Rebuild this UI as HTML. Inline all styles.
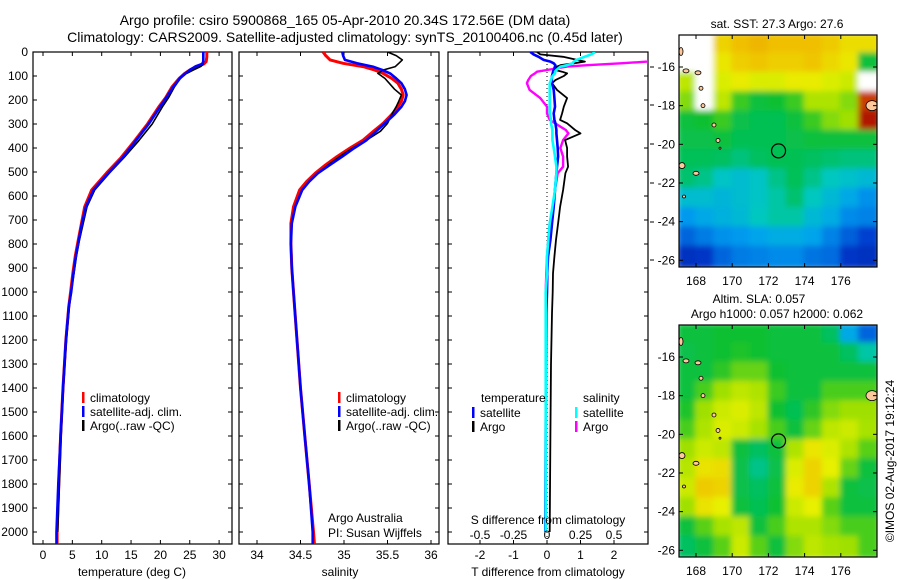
<!DOCTYPE html>
<html><head><meta charset="utf-8"><style>
html,body{margin:0;padding:0;background:#fff;}
svg{display:block;font-family:"Liberation Sans",sans-serif;}
</style></head><body>
<svg id="fig" width="900" height="580" viewBox="0 0 900 580">
<defs>
<clipPath id="cT"><rect x="33" y="52" width="199" height="492"/></clipPath>
<clipPath id="cS"><rect x="239" y="52" width="200" height="492"/></clipPath>
<clipPath id="cD"><rect x="448" y="52" width="200" height="492"/></clipPath>
<clipPath id="cM1"><rect x="679" y="35" width="198" height="232"/></clipPath>
<clipPath id="cM2"><rect x="679" y="325" width="198" height="232"/></clipPath>
<filter id="blur" x="-5%" y="-5%" width="110%" height="110%"><feGaussianBlur stdDeviation="3"/></filter>
</defs>
<text x="345" y="25" font-size="14" text-anchor="middle">Argo profile: csiro 5900868_165 05-Apr-2010 20.34S 172.56E (DM data)</text>
<text x="345" y="42" font-size="14" text-anchor="middle">Climatology: CARS2009. Satellite-adjusted climatology: synTS_20100406.nc (0.45d later)</text>
<g id="g"></g>
</svg>
<script>
// ---- profile data ----
const tDepth=[0,20,40,50,60,75,90,110,145,190,230,300,370,440,505,575,645,720,785,850,920,1000,1060,1200,1400,1600,1800,2000,2050];
const tClim=[27.9,27.9,27.8,27.4,26.2,25.0,24.1,23.2,22.0,20.9,19.7,17.8,15.6,13.3,10.8,8.3,7.1,6.5,6.0,5.5,5.1,4.7,4.4,3.9,3.4,3.0,2.7,2.4,2.4];
const tSat=[27.3,27.3,27.3,27.1,26.0,25.0,24.2,23.3,22.2,21.0,19.9,18.0,15.8,13.6,11.1,8.6,7.3,6.6,6.1,5.6,5.2,4.8,4.4,3.9,3.4,3.0,2.6,2.3,2.3];
const tArgo=[27.3,27.3,27.3,27.3,26.9,25.6,24.4,23.4,22.4,21.4,20.3,18.6,16.3,13.8,11.3,8.8,7.5,6.8,6.2,5.7,5.3,4.8,4.5,4.0,3.5,3.1,2.8,2.5,2.5];
const sDepth=[0,15,33,47,61,75,89,110,130,155,179,205,228,260,297,330,367,400,436,470,505,540,575,645,714,800,900,1000,1200,1400,1600,1800,2000,2050];
const sClim=[34.76,34.79,34.84,34.99,35.22,35.35,35.45,35.55,35.62,35.66,35.68,35.66,35.62,35.55,35.45,35.34,35.22,35.07,34.92,34.79,34.67,34.57,34.49,34.42,34.39,34.39,34.40,34.42,34.46,34.50,34.55,34.60,34.65,34.66];
const sSat=[34.98,34.99,35.01,35.15,35.33,35.44,35.53,35.60,35.66,35.70,35.72,35.70,35.66,35.58,35.47,35.37,35.26,35.12,34.98,34.84,34.70,34.60,34.52,34.44,34.40,34.39,34.40,34.42,34.46,34.50,34.55,34.60,34.64,34.64];
const sArgo=[35.50,35.60,35.67,35.63,35.59,35.45,35.39,35.47,35.52,35.58,35.66,35.63,35.60,35.55,35.50,35.42,35.26,35.10,34.95,34.82,34.70,34.60,34.52,34.44,34.40,34.39,34.40,34.42,34.46,34.50,34.55,34.60,34.64,34.64];
const dDepth=[0,10,20,33,40,47,55,61,75,82,89,100,117,130,158,192,228,256,283,297,325,339,367,400,436,478,505,575,645,714,783,853,922,1000,1089,1300,1600,2000];
const dtSat=[-0.5,-0.4,-0.25,-0.1,0.1,0.2,0.25,0.24,0.2,0.18,0.17,0.15,0.14,0.15,0.2,0.22,0.24,0.2,0.22,0.25,0.28,0.28,0.3,0.32,0.33,0.3,0.28,0.24,0.2,0.15,0.1,0.03,0.01,0,-0.02,-0.03,-0.04,-0.05];
const dtArgo=[-0.3,-0.2,0.48,0.9,1.13,0.8,0.4,0.3,0.25,0.45,0.6,0.5,0.25,0.15,0.3,0.6,0.5,0.45,0.39,0.6,0.84,1.0,0.54,0.6,0.6,0.63,0.55,0.48,0.39,0.33,0.27,0.22,0.18,0.17,0.15,0.12,0.1,0.08];
const dsSat=[0.36,0.33,0.28,0.22,0.2,0.19,0.15,0.10,0.07,0.06,0.06,0.04,0.03,0.02,0.02,0.02,0.02,0.02,0.03,0.03,0.04,0.04,0.04,0.05,0.06,0.07,0.07,0.06,0.04,0.02,0.01,0,0,-0.01,-0.01,-0.01,-0.01,-0.01];
const dsArgo=[1.0,0.8,0.85,0.83,0.75,0.55,0.3,0.15,0.0,-0.075,-0.09,-0.12,-0.14,-0.15,-0.13,-0.05,0,0,0.02,0.06,0.14,0.16,0.12,0.1,0.12,0.12,0.08,0.06,0.045,0.02,0.01,0,-0.005,-0.01,-0.01,-0.01,-0.01,-0.01];
const depthTicks=[0,100,200,300,400,500,600,700,800,900,1000,1100,1200,1300,1400,1500,1600,1700,1800,1900,2000];
const tTicks=[0,5,10,15,20,25,30];
const sTicks=[34,34.5,35,35.5,36];
const dtTicks=[-2,-1,0,1,2];
const dsTicks=[-0.5,-0.25,0,0.25,0.5];
// ---- map data (1-degree cells, rows from north) ----
const sstGrid=[
[-1,-1,0.78,0.82,0.83,0.82,0.82,0.82,0.8,0.76,0.76],
[-1,-1,0.74,0.79,0.81,0.79,0.79,0.81,0.77,0.74,0.5],
[0.66,-1,0.7,0.73,0.7,0.7,0.73,0.73,0.7,0.68,-1],
[0.6,-1,0.66,0.55,0.5,0.52,0.55,0.64,0.64,0.6,0.95],
[0.5,0.52,0.55,0.48,0.47,0.47,0.5,0.55,0.6,0.62,0.98],
[0.48,0.48,0.5,0.47,0.47,0.47,0.48,0.5,0.5,0.5,0.5],
[0.46,0.46,0.45,0.43,0.45,0.47,0.47,0.45,0.44,0.43,0.43],
[0.44,0.42,0.37,0.35,0.37,0.42,0.46,0.42,0.38,0.36,0.34],
[0.35,0.35,0.33,0.35,0.37,0.4,0.44,0.38,0.34,0.3,0.26],
[0.27,0.3,0.32,0.34,0.38,0.4,0.4,0.34,0.31,0.25,0.24],
[0.2,0.23,0.26,0.27,0.29,0.31,0.31,0.29,0.24,0.19,0.15],
[0.1,0.12,0.2,0.23,0.24,0.25,0.25,0.22,0.21,0.12,0.1]];
const slaGrid=[
[0.5,0.5,0.52,0.52,0.52,0.5,0.5,0.5,0.45,0.3,0.2],
[0.48,0.5,0.52,0.53,0.52,0.5,0.5,0.5,0.5,0.45,0.4],
[0.5,0.5,0.54,0.58,0.58,0.52,0.5,0.5,0.5,0.5,0.5],
[0.5,0.56,0.62,0.66,0.64,0.55,0.5,0.5,0.56,0.56,0.56],
[0.53,0.62,0.68,0.7,0.66,0.52,0.47,0.54,0.6,0.62,0.62],
[0.56,0.64,0.7,0.68,0.63,0.56,0.5,0.58,0.66,0.68,0.63],
[0.62,0.68,0.66,0.5,0.45,0.5,0.64,0.74,0.7,0.64,0.57],
[0.65,0.75,0.76,0.48,0.42,0.48,0.7,0.78,0.72,0.58,0.5],
[0.68,0.8,0.78,0.48,0.45,0.5,0.73,0.78,0.64,0.5,0.48],
[0.62,0.75,0.72,0.5,0.47,0.52,0.68,0.72,0.57,0.5,0.5],
[0.5,0.57,0.63,0.66,0.5,0.56,0.64,0.64,0.6,0.56,0.56],
[0.45,0.5,0.57,0.68,0.57,0.5,0.6,0.66,0.63,0.62,0.56]];
const lonTicks=[168,170,172,174,176];
const latTicks=[-16,-18,-20,-22,-24,-26];
const floatLon=172.56, floatLat=-20.34;

const NS='http://www.w3.org/2000/svg';
const G=document.getElementById('g');
function mk(tag,attrs,parent){const e=document.createElementNS(NS,tag);for(const k in attrs)e.setAttribute(k,attrs[k]);(parent||G).appendChild(e);return e;}
function txt(x,y,s,size,anchor,parent){const e=mk('text',{x:x,y:y,'font-size':size,'text-anchor':anchor||'middle'},parent);e.textContent=s;return e;}

const yD=d=>52+d*0.24;
const xT=v=>43+v*5.87;
const xS=v=>257+(v-34)*87;
const xDT=v=>547+v*33.5;
const xDS=v=>547+v*134;

function panel(x0,x1,xs,ticks,fmt,name,yLabels){
  const g=mk('g',{});
  
  
  mk('rect',{x:x0,y:52,width:x1-x0,height:492,fill:'none',stroke:'#000','stroke-width':1.2},g);
  depthTicks.forEach(d=>{const y=yD(d);mk('line',{x1:x0,x2:x0+4,y1:y,y2:y,stroke:'#000'},g);mk('line',{x1:x1-4,x2:x1,y1:y,y2:y,stroke:'#000'},g);
    if(yLabels){const t=txt(x0-5,y+4,String(d),12,'end',g);}});
  ticks.forEach(v=>{const x=xs(v);mk('line',{x1:x,x2:x,y1:52,y2:56,stroke:'#000'},g);mk('line',{x1:x,x2:x,y1:540,y2:544,stroke:'#000'},g);
    if(fmt){const t=txt(x,559,fmt(v),12,'middle',g);}});
  return g;
}
function line(xs,vals,depths,color,w,clip,name){
  const pts=vals.map((v,i)=>xs(v).toFixed(1)+','+yD(depths[i]).toFixed(1)).join(' ');
  const p=mk('polyline',{points:pts,fill:'none',stroke:color,'stroke-width':w,'clip-path':'url(#'+clip+')','stroke-linejoin':'round'});
  
  
}
function legend(x,y,items,name){
  const g=mk('g',{});
  
  
  items.forEach((it,i)=>{const yy=y+i*14;mk('rect',{x:x,y:yy-9,width:2.5,height:11,fill:it[1]},g);txt(x+8,yy+1,it[0],12,'start',g);});
}

// temperature
panel(33,232,xT,tTicks,v=>String(v),'temperature-panel',true);
line(xT,tClim,tDepth,'#f00',3,'cT','temp-climatology-line');
line(xT,tArgo,tDepth.slice(0,28),'#000',1.6,'cT','temp-argo-line');
line(xT,tSat,tDepth,'#00f',2.6,'cT','temp-satellite-line');
txt(132,576,'temperature (deg C)',12);
legend(82,401,[['climatology','#f00'],['satellite-adj. clim.','#00f'],['Argo(..raw -QC)','#000']],'temp-legend');

// salinity
panel(239,439,xS,sTicks,v=>String(v),'salinity-panel',false);
line(xS,sClim,sDepth,'#f00',3,'cS','sal-climatology-line');
line(xS,sArgo,sDepth.slice(0,33),'#000',1.6,'cS','sal-argo-line');
line(xS,sSat,sDepth,'#00f',2.6,'cS','sal-satellite-line');
txt(340,576,'salinity',12);
legend(338,401,[['climatology','#f00'],['satellite-adj. clim.','#00f'],['Argo(..raw -QC)','#000']],'sal-legend');
txt(328,522,'Argo Australia',12,'start');
txt(328,537,'PI: Susan Wijffels',12,'start');

// difference
panel(448,648,xDT,dtTicks,v=>String(v),'difference-panel',false);
mk('line',{x1:547,x2:547,y1:52,y2:544,stroke:'#000','stroke-dasharray':'1,3'});
line(xDS,dsArgo,dDepth,'#f0f',2.4,'cD','sal-diff-argo-line');
line(xDT,dtArgo,dDepth,'#000',1.8,'cD','temp-diff-argo-line');
line(xDT,dtSat,dDepth,'#00f',2.6,'cD','temp-diff-satellite-line');
line(xDS,dsSat,dDepth,'#0ff',2.6,'cD','sal-diff-satellite-line');
dsTicks.forEach(v=>{const t=txt(xDS(v),539,String(v),12);});
txt(548,524,'S difference from climatology',12);
txt(548,576,'T difference from climatology',12);
txt(481,402,'temperature',12,'start');
txt(583,402,'salinity',12,'start');
legend(472,416,[['satellite','#00f'],['Argo','#000']],'temp-diff-legend');
legend(575,416,[['satellite','#0ff'],['Argo','#f0f']],'sal-diff-legend');
[67,105,144,183,222,260].forEach(y=>mk('line',{x1:650,x2:654,y1:y,y2:y,stroke:'#000'}));

// maps
const stops=[[0,[0,16,160]],[0.15,[0,64,208]],[0.28,[0,160,240]],[0.38,[0,200,192]],[0.45,[0,192,96]],[0.52,[16,192,48]],[0.62,[160,224,0]],[0.72,[232,240,0]],[0.82,[240,192,0]],[0.92,[224,96,0]],[1,[160,0,0]]];
function cmap(v){if(v<0)return '#fff';for(let i=1;i<stops.length;i++){if(v<=stops[i][0]){const a=stops[i-1],b=stops[i],f=(v-a[0])/(b[0]-a[0]);const c=a[1].map((q,k)=>Math.round(q+(b[1][k]-q)*f));return 'rgb('+c.join(',')+')';}}return 'rgb(160,0,0)';}
function map(grid,top,lat16,clip,name,titleLines){
  const g=mk('g',{});
  
  
  const xL=lon=>696+(lon-168)*18.1;
  const yL=lat=>lat16+(-16-lat)*19.33;
  const cg=mk('g',{'clip-path':'url(#'+clip+')'},g);
  const bg=mk('g',{filter:'url(#blur)'},cg);
  const lat0=-16+(lat16-top)/19.33;
  grid.forEach((row,r)=>row.forEach((v,c)=>{
    const cell=mk('rect',{x:xL(167.06+c)-2,y:yL(lat0-r)-2,width:22.1,height:23.3,fill:cmap(v)},bg);
    
    
  }));
  const isl=[[681,-15.2,2,4],[686,-16.2,3,2],[698,-16.3,3,2],[701,-17.1,2,2],[703,-18.0,2,2],[714,-19.0,2,2],[718,-19.8,2,2],[720,-20.2,1,1],[682,-21.1,3,3],[696,-21.5,3,2],[684,-22.7,1.5,1.5],[872,-18.0,6,5]];
  isl.forEach(s=>mk('ellipse',{cx:s[0],cy:yL(s[1]),rx:s[2],ry:s[3],fill:'#fdc99c',stroke:'#000','stroke-width':0.8},cg));
  mk('circle',{cx:xL(floatLon),cy:yL(floatLat),r:7,fill:'none',stroke:'#000','stroke-width':1.2},g);
  mk('rect',{x:679,y:top,width:198,height:232,fill:'none',stroke:'#000','stroke-width':1.2},g);
  lonTicks.forEach(v=>{const x=xL(v);mk('line',{x1:x,x2:x,y1:top,y2:top+4,stroke:'#000'},g);mk('line',{x1:x,x2:x,y1:top+228,y2:top+232,stroke:'#000'},g);txt(x,top+250,String(v),12,'middle',g);});
  latTicks.forEach(v=>{const y=yL(v);mk('line',{x1:679,x2:683,y1:y,y2:y,stroke:'#000'},g);mk('line',{x1:873,x2:877,y1:y,y2:y,stroke:'#000'},g);txt(675,y+4,String(v),12,'end',g);});
  titleLines.forEach(t=>txt(t[1],t[2],t[0],12,'middle',g));
}
map(sstGrid,35,67,'cM1','sst-map',[['sat. SST: 27.3 Argo: 27.6',777,28]]);
map(slaGrid,325,357,'cM2','sla-map',[['Altim. SLA: 0.057',759,303],['Argo h1000: 0.057 h2000: 0.062',777,318]]);
const cr=txt(0,0,'©IMOS 02-Aug-2017 19:12:24',12,'middle');
cr.setAttribute('transform','translate(894,461) rotate(-90)');


</script>
</body></html>
